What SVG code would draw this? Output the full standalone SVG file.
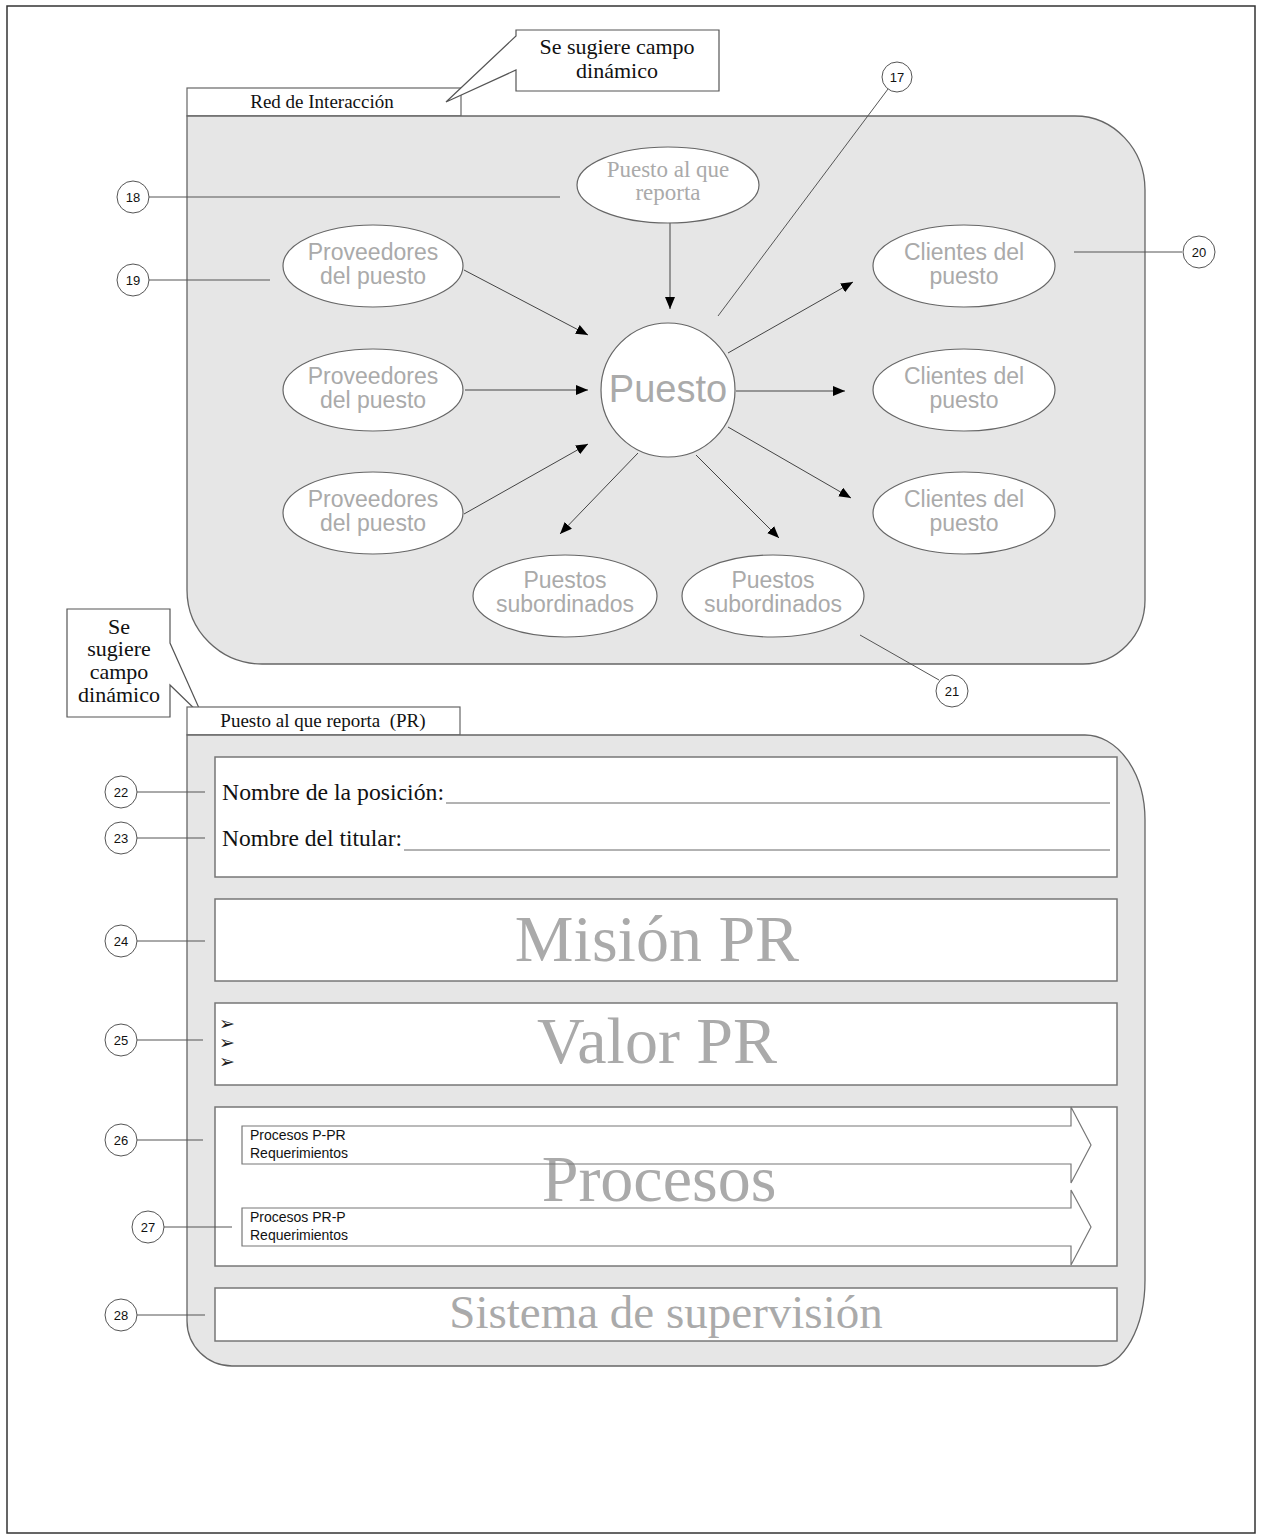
<svg xmlns="http://www.w3.org/2000/svg" width="1262" height="1535" viewBox="0 0 1262 1535">
<style>
.region{fill:#e6e6e6;stroke:#666;stroke-width:1.3}
.tab{fill:#fff;stroke:#666;stroke-width:1.2}
.call{fill:#fff;stroke:#555;stroke-width:1.2}
.node{fill:#fff;stroke:#666;stroke-width:1.2}
.box{fill:#fff;stroke:#777;stroke-width:1.5}
.conn{stroke:#444;stroke-width:1;fill:none}
.lead{stroke:#555;stroke-width:1;fill:none}
.num{fill:#fff;stroke:#555;stroke-width:1}
.numt{font-family:"Liberation Sans",Arial,sans-serif;font-size:13px;fill:#111;text-anchor:middle}
.serif{font-family:"Liberation Serif","Times New Roman",serif;fill:#111}
.gs{font-family:"Liberation Sans",Arial,sans-serif;fill:#aaa;text-anchor:middle}
.gserif{font-family:"Liberation Serif","Times New Roman",serif;fill:#aaa;text-anchor:middle}
.small{font-family:"Liberation Sans",Arial,sans-serif;font-size:14px;fill:#111}
.bul{font-family:"DejaVu Sans",sans-serif;font-size:19px;fill:#222}
</style>
<defs>
<marker id="ah" viewBox="0 0 12 10" refX="12" refY="5" markerWidth="12" markerHeight="10" markerUnits="userSpaceOnUse" orient="auto">
<path d="M0,0 L12,5 L0,10 Z" fill="#000"/>
</marker>
</defs>
<rect x="7" y="6" width="1248" height="1527" fill="#fff" stroke="#333" stroke-width="1.5"/>

<!-- Section 1 -->
<g id="tab-red">
<rect class="tab" x="187" y="88" width="274" height="28"/>
<text class="serif" x="322" y="108" font-size="19" text-anchor="middle">Red de Interacción</text>
</g>
<g id="callout-1">
<path class="call" d="M516,30 H719 V91 H516 V70 L446,102 L516,36 Z"/>
<text class="serif" x="617" y="54" font-size="22" text-anchor="middle">Se sugiere campo</text>
<text class="serif" x="617" y="78" font-size="22" text-anchor="middle">dinámico</text>
</g>
<g id="region-red">
<path class="region" d="M187,116 H1075 A70,74 0 0 1 1145,190 V600 A62,64 0 0 1 1083,664 H262 A75,74 0 0 1 187,590 Z"/>
</g>

<g id="connectors">
<line class="conn" x1="670" y1="222" x2="670" y2="309" marker-end="url(#ah)"/>
<line class="conn" x1="464" y1="270" x2="588" y2="335" marker-end="url(#ah)"/>
<line class="conn" x1="465" y1="390" x2="588" y2="390" marker-end="url(#ah)"/>
<line class="conn" x1="464" y1="514" x2="588" y2="444" marker-end="url(#ah)"/>
<line class="conn" x1="728" y1="353" x2="853" y2="282" marker-end="url(#ah)"/>
<line class="conn" x1="736" y1="391" x2="845" y2="391" marker-end="url(#ah)"/>
<line class="conn" x1="728" y1="427" x2="851" y2="498" marker-end="url(#ah)"/>
<line class="conn" x1="638" y1="453" x2="560" y2="534" marker-end="url(#ah)"/>
<line class="conn" x1="696" y1="455" x2="779" y2="538" marker-end="url(#ah)"/>
</g>

<g id="node-reporta">
<ellipse class="node" cx="668" cy="185" rx="91" ry="38"/>
<text class="gserif" x="668" y="177" font-size="23">Puesto al que</text>
<text class="gserif" x="668" y="200" font-size="23">reporta</text>
</g>
<g id="node-puesto">
<circle class="node" cx="668" cy="390" r="67"/>
<text class="gs" x="668" y="402" font-size="38">Puesto</text>
</g>
<g id="node-prov1">
<ellipse class="node" cx="373" cy="266" rx="90" ry="41"/>
<text class="gs" x="373" y="260" font-size="23">Proveedores</text>
<text class="gs" x="373" y="284" font-size="23">del puesto</text>
</g>
<g id="node-prov2">
<ellipse class="node" cx="373" cy="390" rx="90" ry="41"/>
<text class="gs" x="373" y="384" font-size="23">Proveedores</text>
<text class="gs" x="373" y="408" font-size="23">del puesto</text>
</g>
<g id="node-prov3">
<ellipse class="node" cx="373" cy="513" rx="90" ry="41"/>
<text class="gs" x="373" y="507" font-size="23">Proveedores</text>
<text class="gs" x="373" y="531" font-size="23">del puesto</text>
</g>
<g id="node-cli1">
<ellipse class="node" cx="964" cy="266" rx="91" ry="41"/>
<text class="gs" x="964" y="260" font-size="23">Clientes del</text>
<text class="gs" x="964" y="284" font-size="23">puesto</text>
</g>
<g id="node-cli2">
<ellipse class="node" cx="964" cy="390" rx="91" ry="41"/>
<text class="gs" x="964" y="384" font-size="23">Clientes del</text>
<text class="gs" x="964" y="408" font-size="23">puesto</text>
</g>
<g id="node-cli3">
<ellipse class="node" cx="964" cy="513" rx="91" ry="41"/>
<text class="gs" x="964" y="507" font-size="23">Clientes del</text>
<text class="gs" x="964" y="531" font-size="23">puesto</text>
</g>
<g id="node-sub1">
<ellipse class="node" cx="565" cy="596" rx="92" ry="41"/>
<text class="gs" x="565" y="588" font-size="23">Puestos</text>
<text class="gs" x="565" y="612" font-size="23">subordinados</text>
</g>
<g id="node-sub2">
<ellipse class="node" cx="773" cy="596" rx="91" ry="41"/>
<text class="gs" x="773" y="588" font-size="23">Puestos</text>
<text class="gs" x="773" y="612" font-size="23">subordinados</text>
</g>

<g id="leaders-1">
<line class="lead" x1="718" y1="316" x2="888" y2="89"/>
<line class="lead" x1="149" y1="197" x2="560" y2="197"/>
<line class="lead" x1="149" y1="280" x2="270" y2="280"/>
<line class="lead" x1="1074" y1="252" x2="1182" y2="252"/>
<line class="lead" x1="860" y1="635" x2="939" y2="680"/>
</g>
<g id="n17"><circle class="num" cx="897" cy="77" r="15"/><text class="numt" x="897" y="82">17</text></g>
<g id="n18"><circle class="num" cx="133" cy="197" r="16"/><text class="numt" x="133" y="202">18</text></g>
<g id="n19"><circle class="num" cx="133" cy="280" r="16"/><text class="numt" x="133" y="285">19</text></g>
<g id="n20"><circle class="num" cx="1199" cy="252" r="16"/><text class="numt" x="1199" y="257">20</text></g>
<g id="n21"><circle class="num" cx="952" cy="691" r="16"/><text class="numt" x="952" y="696">21</text></g>

<!-- Section 2 -->
<g id="callout-2">
<path class="call" d="M67,609 H170 V643 L203,717 L170,685 V717 H67 Z"/>
<text class="serif" x="119" y="634" font-size="22" text-anchor="middle">Se</text>
<text class="serif" x="119" y="656" font-size="22" text-anchor="middle">sugiere</text>
<text class="serif" x="119" y="679" font-size="22" text-anchor="middle">campo</text>
<text class="serif" x="119" y="702" font-size="22" text-anchor="middle">dinámico</text>
</g>
<g id="tab-pr">
<rect class="tab" x="187" y="707" width="273" height="28"/>
<text class="serif" x="323" y="727" font-size="19" text-anchor="middle" xml:space="preserve">Puesto al que reporta  (PR)</text>
</g>
<g id="region-pr">
<path class="region" d="M187,735 H1085 A60,85 0 0 1 1145,820 V1280 A48,86 0 0 1 1097,1366 H232 A45,45 0 0 1 187,1321 Z"/>
</g>

<g id="box-nombre">
<rect class="box" x="215" y="757" width="902" height="120"/>
<text class="serif" x="222" y="800" font-size="23" textLength="222" lengthAdjust="spacingAndGlyphs">Nombre de la posición:</text>
<line x1="446" y1="803" x2="1110" y2="803" stroke="#666" stroke-width="1"/>
<text class="serif" x="222" y="846" font-size="23" textLength="180" lengthAdjust="spacingAndGlyphs">Nombre del titular:</text>
<line x1="404" y1="850" x2="1110" y2="850" stroke="#666" stroke-width="1"/>
</g>
<g id="box-mision">
<rect class="box" x="215" y="899" width="902" height="82"/>
<text class="gserif" x="657" y="961" font-size="66">Misión PR</text>
</g>
<g id="box-valor">
<rect class="box" x="215" y="1003" width="902" height="82"/>
<text class="gserif" x="657" y="1063" font-size="66">Valor PR</text>
<text class="bul" x="219" y="1030">➢</text>
<text class="bul" x="219" y="1049">➢</text>
<text class="bul" x="219" y="1068">➢</text>
</g>
<g id="box-procesos">
<rect class="box" x="215" y="1107" width="902" height="159"/>
<text class="gserif" x="659" y="1201" font-size="66">Procesos</text>
</g>
<g id="arrow-p-pr">
<path d="M242,1126 H1071 V1107 L1091,1145 L1071,1183 V1164 H242 Z" fill="none" stroke="#777" stroke-width="1.2"/>
<text class="small" x="250" y="1140">Procesos P-PR</text>
<text class="small" x="250" y="1158">Requerimientos</text>
</g>
<g id="arrow-pr-p">
<path d="M242,1208 H1071 V1190 L1091,1227 L1071,1265 V1246 H242 Z" fill="none" stroke="#777" stroke-width="1.2"/>
<text class="small" x="250" y="1222">Procesos PR-P</text>
<text class="small" x="250" y="1240">Requerimientos</text>
</g>
<g id="box-supervision">
<rect class="box" x="215" y="1288" width="902" height="53"/>
<text class="gserif" x="666" y="1328" font-size="47">Sistema de supervisión</text>
</g>

<g id="leaders-2">
<line class="lead" x1="137" y1="792" x2="205" y2="792"/>
<line class="lead" x1="137" y1="838" x2="205" y2="838"/>
<line class="lead" x1="137" y1="941" x2="205" y2="941"/>
<line class="lead" x1="137" y1="1040" x2="203" y2="1040"/>
<line class="lead" x1="137" y1="1140" x2="203" y2="1140"/>
<line class="lead" x1="164" y1="1227" x2="232" y2="1227"/>
<line class="lead" x1="137" y1="1315" x2="205" y2="1315"/>
</g>
<g id="n22"><circle class="num" cx="121" cy="792" r="16"/><text class="numt" x="121" y="797">22</text></g>
<g id="n23"><circle class="num" cx="121" cy="838" r="16"/><text class="numt" x="121" y="843">23</text></g>
<g id="n24"><circle class="num" cx="121" cy="941" r="16"/><text class="numt" x="121" y="946">24</text></g>
<g id="n25"><circle class="num" cx="121" cy="1040" r="16"/><text class="numt" x="121" y="1045">25</text></g>
<g id="n26"><circle class="num" cx="121" cy="1140" r="16"/><text class="numt" x="121" y="1145">26</text></g>
<g id="n27"><circle class="num" cx="148" cy="1227" r="16"/><text class="numt" x="148" y="1232">27</text></g>
<g id="n28"><circle class="num" cx="121" cy="1315" r="16"/><text class="numt" x="121" y="1320">28</text></g>
</svg>
